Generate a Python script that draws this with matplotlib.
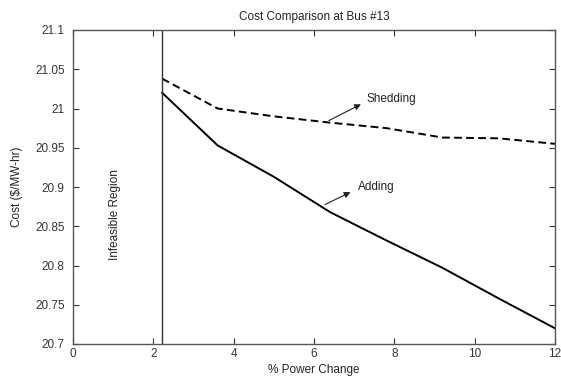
import matplotlib
matplotlib.use("Agg")
import matplotlib.pyplot as plt

# Data
power_change = [2.22, 3.6, 5.0, 6.4, 7.8, 9.2, 10.6, 12.0]
cost_shedding = [21.038, 21.000, 20.990, 20.982, 20.975, 20.963, 20.962, 20.955]
cost_adding = [21.020, 20.953, 20.913, 20.868, 20.832, 20.797, 20.758, 20.720]
infeasible_limit = 2.22
x_ticks = [0, 2, 4, 6, 8, 10, 12]
y_ticks = [20.7, 20.75, 20.8, 20.85, 20.9, 20.95, 21.0, 21.05, 21.1]
y_tick_labels = ["20.7", "20.75", "20.8", "20.85", "20.9", "20.95", "21", "21.05", "21.1"]

plt.rcParams['font.family'] = ['Liberation Sans', 'DejaVu Sans']

fig = plt.figure(figsize=(5.61, 3.76), dpi=100)
W, H = 561, 376
left, right, top, bottom = 73, 555, 30, 344
ax = fig.add_axes([left / W, 1 - bottom / H, (right - left) / W, (bottom - top) / H])

ax.plot(power_change, cost_shedding, color='black', lw=1.4, ls=(0, (4, 2.2)))
ax.plot(power_change, cost_adding, color='black', lw=1.4)
ax.axvline(infeasible_limit, color='#333333', lw=1.0)

ax.set_xlim(0, 12)
ax.set_ylim(20.7, 21.1)
ax.set_xticks(x_ticks)
ax.set_xticklabels([str(v) for v in x_ticks])
ax.set_yticks(y_ticks)
ax.set_yticklabels(y_tick_labels)

ax.tick_params(direction='in', top=True, right=True, length=4, width=0.8,
               labelsize=8.5, colors='#333333')
ax.tick_params(axis='y', pad=6)
ax.tick_params(axis='x', pad=3)
for s in ax.spines.values():
    s.set_color('#555555')
    s.set_linewidth(1.0)

ax.set_title('Cost Comparison at Bus #13', fontsize=8.5, color='#222222', pad=7)
ax.set_xlabel('% Power Change', fontsize=8.5, color='#222222', labelpad=3)
ax.set_ylabel('Cost ($/MW-hr)', fontsize=8.5, color='#222222', labelpad=9)

ax.text(1.05, 20.865, 'Infeasible Region', rotation=90, ha='center', va='center',
        fontsize=8.5, color='#222222')

ax.annotate('', xy=(7.23, 21.007), xytext=(6.31, 20.983),
            arrowprops=dict(arrowstyle='-|>', color='#222222', lw=0.8, mutation_scale=9))
ax.text(7.31, 21.012, 'Shedding', fontsize=8.5, color='#222222', ha='left', va='center')

ax.annotate('', xy=(6.97, 20.895), xytext=(6.21, 20.876),
            arrowprops=dict(arrowstyle='-|>', color='#222222', lw=0.8, mutation_scale=9))
ax.text(7.1, 20.8996, 'Adding', fontsize=8.5, color='#222222', ha='left', va='center')

fig.savefig('out.png', dpi=100)
